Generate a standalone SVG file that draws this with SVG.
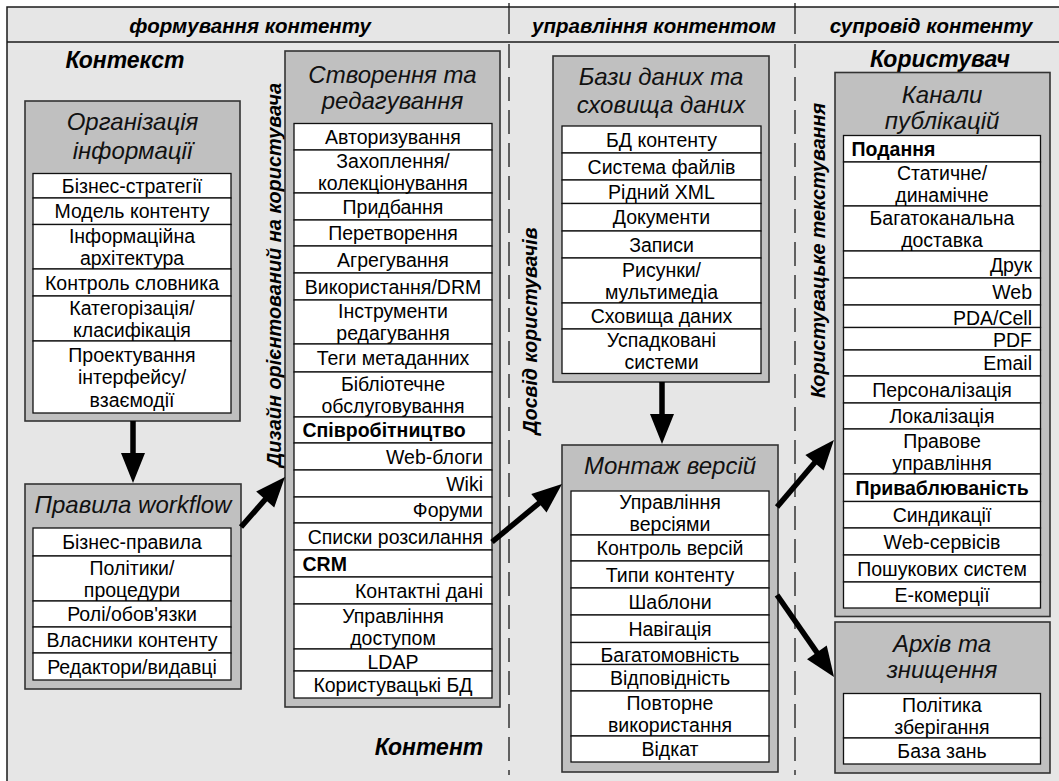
<svg xmlns="http://www.w3.org/2000/svg" width="1059" height="781" viewBox="0 0 1059 781">
<style>
.frame{fill:#e6e6e6;stroke:#1a1a1a;stroke-width:1.5}
.div{stroke:#1a1a1a;stroke-width:1.3;fill:none}
.dash{stroke-dasharray:24 9}
.box{fill:#c0c0c0;stroke:#333;stroke-width:1.6}
.row{fill:#fff;stroke:#111;stroke-width:1.3}
text{font-family:"Liberation Sans",Arial,sans-serif;fill:#000}
.t{font-size:19.5px;text-anchor:middle}
.b{font-weight:bold}
.l{text-anchor:start}
.r{text-anchor:end}
.title{font-size:24px;font-style:italic;text-anchor:middle;fill:#111}
.hdr{font-size:20.5px;font-weight:bold;font-style:italic;text-anchor:middle}
.big{font-size:23px;font-weight:bold;font-style:italic;text-anchor:middle}
.rot{font-size:20px;font-weight:bold;font-style:italic;text-anchor:middle}
.conn line{stroke:#000;stroke-width:5.5;marker-end:url(#ah)}
</style>
<defs>
<marker id="ah" markerUnits="userSpaceOnUse" markerWidth="30" markerHeight="24" refX="10" refY="12" orient="auto" overflow="visible">
<path d="M0,0 L30,12 L0,24 z" fill="#000"/>
</marker>
</defs>

<g id="background">
<rect class="frame" x="7" y="7" width="1060" height="780"/>
<line class="div" x1="7" y1="42" x2="1059" y2="42"/>
<line class="div" x1="509" y1="3" x2="509" y2="34"/>
<line class="div dash" x1="509" y1="44" x2="509" y2="775"/>
<line class="div" x1="795" y1="3" x2="795" y2="34"/>
<line class="div dash" x1="795" y1="44" x2="795" y2="775"/>
<text class="hdr" x="250" y="33">формування контенту</text>
<text class="hdr" x="654" y="33">управління контентом</text>
<text class="hdr" x="931" y="33">супровід контенту</text>
<text class="big" x="125" y="67.5">Контекст</text>
<text class="big" x="940" y="66.5">Користувач</text>
<text class="big" x="429" y="755">Контент</text>
<text class="rot" transform="translate(281,275) rotate(-90)" textLength="384" lengthAdjust="spacingAndGlyphs">Дизайн орієнтований на користувача</text>
<text class="rot" transform="translate(537,331) rotate(-90)" textLength="207" lengthAdjust="spacingAndGlyphs">Досвід користувачів</text>
<text class="rot" transform="translate(825,250.5) rotate(-90)" textLength="295" lengthAdjust="spacingAndGlyphs">Користувацьке текстування</text>
</g>

<g id="org-info">
<rect class="box" x="25" y="101" width="215" height="320"/>
<text class="title" x="132.5" y="130">Організація</text>
<text class="title" x="132.5" y="159">інформації</text>
<rect class="row" x="33" y="173.5" width="198" height="24.5"/>
<rect class="row" x="33" y="198" width="198" height="26.5"/>
<rect class="row" x="33" y="224.5" width="198" height="44.5"/>
<rect class="row" x="33" y="269" width="198" height="27"/>
<rect class="row" x="33" y="296" width="198" height="45"/>
<rect class="row" x="33" y="341" width="198" height="72"/>
<text class="t" x="132" y="192.5">Бізнес-стратегії</text>
<text class="t" x="132" y="218.2">Модель контенту</text>
<text class="t" x="132" y="242.7">Інформаційна</text>
<text class="t" x="132" y="264.7">архітектура</text>
<text class="t" x="132" y="289.5">Контроль словника</text>
<text class="t" x="132" y="314.5">Категорізація/</text>
<text class="t" x="132" y="336.5">класифікація</text>
<text class="t" x="132" y="361.5">Проектування</text>
<text class="t" x="132" y="384">інтерфейсу/</text>
<text class="t" x="132" y="406.5">взаємодії</text>
</g>

<g id="workflow">
<rect class="box" x="25" y="484" width="216" height="205"/>
<text class="title" x="133" y="513">Правила workflow</text>
<rect class="row" x="33" y="528" width="198" height="28"/>
<rect class="row" x="33" y="556" width="198" height="45"/>
<rect class="row" x="33" y="601" width="198" height="26"/>
<rect class="row" x="33" y="627" width="198" height="26"/>
<rect class="row" x="33" y="653" width="198" height="27"/>
<text class="t" x="132" y="549">Бізнес-правила</text>
<text class="t" x="132" y="574.5">Політики/</text>
<text class="t" x="132" y="596.5">процедури</text>
<text class="t" x="132" y="621">Ролі/обов'язки</text>
<text class="t" x="132" y="647">Власники контенту</text>
<text class="t" x="132" y="673.5">Редактори/видавці</text>
</g>

<g id="create-edit">
<rect class="box" x="285" y="51" width="215" height="656"/>
<text class="title" x="392.5" y="83">Створення та</text>
<text class="title" x="392.5" y="109">редагування</text>
<rect class="row" x="294" y="123.5" width="198" height="26.5"/>
<rect class="row" x="294" y="150" width="198" height="43"/>
<rect class="row" x="294" y="193" width="198" height="27"/>
<rect class="row" x="294" y="220" width="198" height="26"/>
<rect class="row" x="294" y="246" width="198" height="27"/>
<rect class="row" x="294" y="273" width="198" height="27"/>
<rect class="row" x="294" y="300" width="198" height="44"/>
<rect class="row" x="294" y="344" width="198" height="28"/>
<rect class="row" x="294" y="372" width="198" height="45"/>
<rect class="row" x="294" y="417" width="198" height="26"/>
<rect class="row" x="294" y="443" width="198" height="27"/>
<rect class="row" x="294" y="470" width="198" height="27"/>
<rect class="row" x="294" y="497" width="198" height="26"/>
<rect class="row" x="294" y="523" width="198" height="27"/>
<rect class="row" x="294" y="550" width="198" height="27"/>
<rect class="row" x="294" y="577" width="198" height="27"/>
<rect class="row" x="294" y="604" width="198" height="45"/>
<rect class="row" x="294" y="649" width="198" height="22"/>
<rect class="row" x="294" y="671" width="198" height="27"/>
<text class="t" x="393" y="143.7">Авторизування</text>
<text class="t" x="393" y="167.5">Захоплення/</text>
<text class="t" x="393" y="189.5">колекціонування</text>
<text class="t" x="393" y="213.5">Придбання</text>
<text class="t" x="393" y="240">Перетворення</text>
<text class="t" x="393" y="266.5">Агрегування</text>
<text class="t" x="393" y="293.5">Використання/DRM</text>
<text class="t" x="393" y="318">Інструменти</text>
<text class="t" x="393" y="340">редагування</text>
<text class="t" x="393" y="365">Теги метаданних</text>
<text class="t" x="393" y="390.5">Бібліотечне</text>
<text class="t" x="393" y="412.5">обслуговування</text>
<text class="t b l" x="302.5" y="437">Співробітництво</text>
<text class="t r" x="483" y="463.5">Web-блоги</text>
<text class="t r" x="483" y="490.5">Wiki</text>
<text class="t r" x="483" y="517">Форуми</text>
<text class="t r" x="483" y="543.5">Списки розсилання</text>
<text class="t b l" x="302.5" y="570.5">CRM</text>
<text class="t r" x="483" y="597.5">Контактні дані</text>
<text class="t" x="393" y="622.5">Управління</text>
<text class="t" x="393" y="644.5">доступом</text>
<text class="t" x="393" y="668.5">LDAP</text>
<text class="t" x="393" y="691.5">Користувацькі БД</text>
</g>

<g id="databases">
<rect class="box" x="553" y="56" width="216" height="326"/>
<text class="title" x="661" y="84.5">Бази даних та</text>
<text class="title" x="661" y="112.5">сховища даних</text>
<rect class="row" x="562" y="126" width="199" height="27"/>
<rect class="row" x="562" y="153" width="199" height="27"/>
<rect class="row" x="562" y="180" width="199" height="23.5"/>
<rect class="row" x="562" y="203.5" width="199" height="27.5"/>
<rect class="row" x="562" y="231" width="199" height="27"/>
<rect class="row" x="562" y="258" width="199" height="45"/>
<rect class="row" x="562" y="303" width="199" height="26"/>
<rect class="row" x="562" y="329" width="199" height="44.5"/>
<text class="t" x="661.5" y="146.5">БД контенту</text>
<text class="t" x="661.5" y="173.5">Система файлів</text>
<text class="t" x="661.5" y="198.5">Рідний XML</text>
<text class="t" x="661.5" y="224.2">Документи</text>
<text class="t" x="661.5" y="251.5">Записи</text>
<text class="t" x="661.5" y="276.5">Рисунки/</text>
<text class="t" x="661.5" y="298.5">мультимедіа</text>
<text class="t" x="661.5" y="323">Сховища даних</text>
<text class="t" x="661.5" y="347.2">Успадковані</text>
<text class="t" x="661.5" y="369.2">системи</text>
</g>

<g id="versions">
<rect class="box" x="562" y="445" width="216" height="327"/>
<text class="title" x="670" y="474">Монтаж версій</text>
<rect class="row" x="571" y="491" width="198" height="44"/>
<rect class="row" x="571" y="535" width="198" height="26"/>
<rect class="row" x="571" y="561" width="198" height="27"/>
<rect class="row" x="571" y="588" width="198" height="27"/>
<rect class="row" x="571" y="615" width="198" height="27.5"/>
<rect class="row" x="571" y="642.5" width="198" height="22"/>
<rect class="row" x="571" y="664.5" width="198" height="26.5"/>
<rect class="row" x="571" y="691" width="198" height="45"/>
<rect class="row" x="571" y="736" width="198" height="26"/>
<text class="t" x="670" y="509">Управління</text>
<text class="t" x="670" y="531">версіями</text>
<text class="t" x="670" y="555">Контроль версій</text>
<text class="t" x="670" y="581.5">Типи контенту</text>
<text class="t" x="670" y="608.5">Шаблони</text>
<text class="t" x="670" y="635.7">Навігація</text>
<text class="t" x="670" y="662">Багатомовність</text>
<text class="t" x="670" y="684.7">Відповідність</text>
<text class="t" x="670" y="709.5">Повторне</text>
<text class="t" x="670" y="731.5">використання</text>
<text class="t" x="670" y="756">Відкат</text>
</g>

<g id="channels">
<rect class="box" x="835" y="72.5" width="215" height="544"/>
<text class="title" x="942" y="103">Канали</text>
<text class="title" x="942" y="129">публікацій</text>
<rect class="row" x="843.5" y="135.5" width="197" height="26.5"/>
<rect class="row" x="843.5" y="162" width="197" height="44"/>
<rect class="row" x="843.5" y="206" width="197" height="45"/>
<rect class="row" x="843.5" y="251" width="197" height="27"/>
<rect class="row" x="843.5" y="278" width="197" height="27"/>
<rect class="row" x="843.5" y="305" width="197" height="22.5"/>
<rect class="row" x="843.5" y="327.5" width="197" height="22.5"/>
<rect class="row" x="843.5" y="350" width="197" height="26"/>
<rect class="row" x="843.5" y="376" width="197" height="27"/>
<rect class="row" x="843.5" y="403" width="197" height="26"/>
<rect class="row" x="843.5" y="429" width="197" height="45"/>
<rect class="row" x="843.5" y="474" width="197" height="27.5"/>
<rect class="row" x="843.5" y="501.5" width="197" height="26.5"/>
<rect class="row" x="843.5" y="528" width="197" height="27"/>
<rect class="row" x="843.5" y="555" width="197" height="27"/>
<rect class="row" x="843.5" y="582" width="197" height="26"/>
<text class="t b l" x="851.5" y="155.7">Подання</text>
<text class="t" x="942" y="180">Статичне/</text>
<text class="t" x="942" y="202">динамічне</text>
<text class="t" x="942" y="224.5">Багатоканальна</text>
<text class="t" x="942" y="246.5">доставка</text>
<text class="t r" x="1032" y="271.5">Друк</text>
<text class="t r" x="1032" y="298.5">Web</text>
<text class="t r" x="1032" y="325">PDA/Cell</text>
<text class="t r" x="1032" y="347">PDF</text>
<text class="t r" x="1032" y="370">Email</text>
<text class="t" x="942" y="396.5">Персоналізація</text>
<text class="t" x="942" y="423">Локалізація</text>
<text class="t" x="942" y="447.5">Правове</text>
<text class="t" x="942" y="469.5">управління</text>
<text class="t b" x="942" y="494.7">Приваблюваність</text>
<text class="t" x="942" y="521.7">Синдикації</text>
<text class="t" x="942" y="548.5">Web-сервісів</text>
<text class="t" x="942" y="575.5">Пошукових систем</text>
<text class="t" x="942" y="602">Е-комерції</text>
</g>

<g id="archive">
<rect class="box" x="835" y="622" width="215" height="151"/>
<text class="title" x="942" y="652">Архів та</text>
<text class="title" x="942" y="678">знищення</text>
<rect class="row" x="843.5" y="693.5" width="197" height="44.5"/>
<rect class="row" x="843.5" y="738" width="197" height="26"/>
<text class="t" x="942" y="711.7">Політика</text>
<text class="t" x="942" y="733.7">зберігання</text>
<text class="t" x="942" y="758">База зань</text>
</g>

<g id="connectors" class="conn">
<line x1="133" y1="421" x2="133" y2="463"/>
<line x1="241" y1="527" x2="271.8" y2="492"/>
<line x1="492" y1="542" x2="546.6" y2="496.8"/>
<line x1="662" y1="382" x2="662" y2="424"/>
<line x1="777" y1="507" x2="821" y2="455.2"/>
<line x1="777" y1="595" x2="822.6" y2="660.6"/>
</g>
</svg>
